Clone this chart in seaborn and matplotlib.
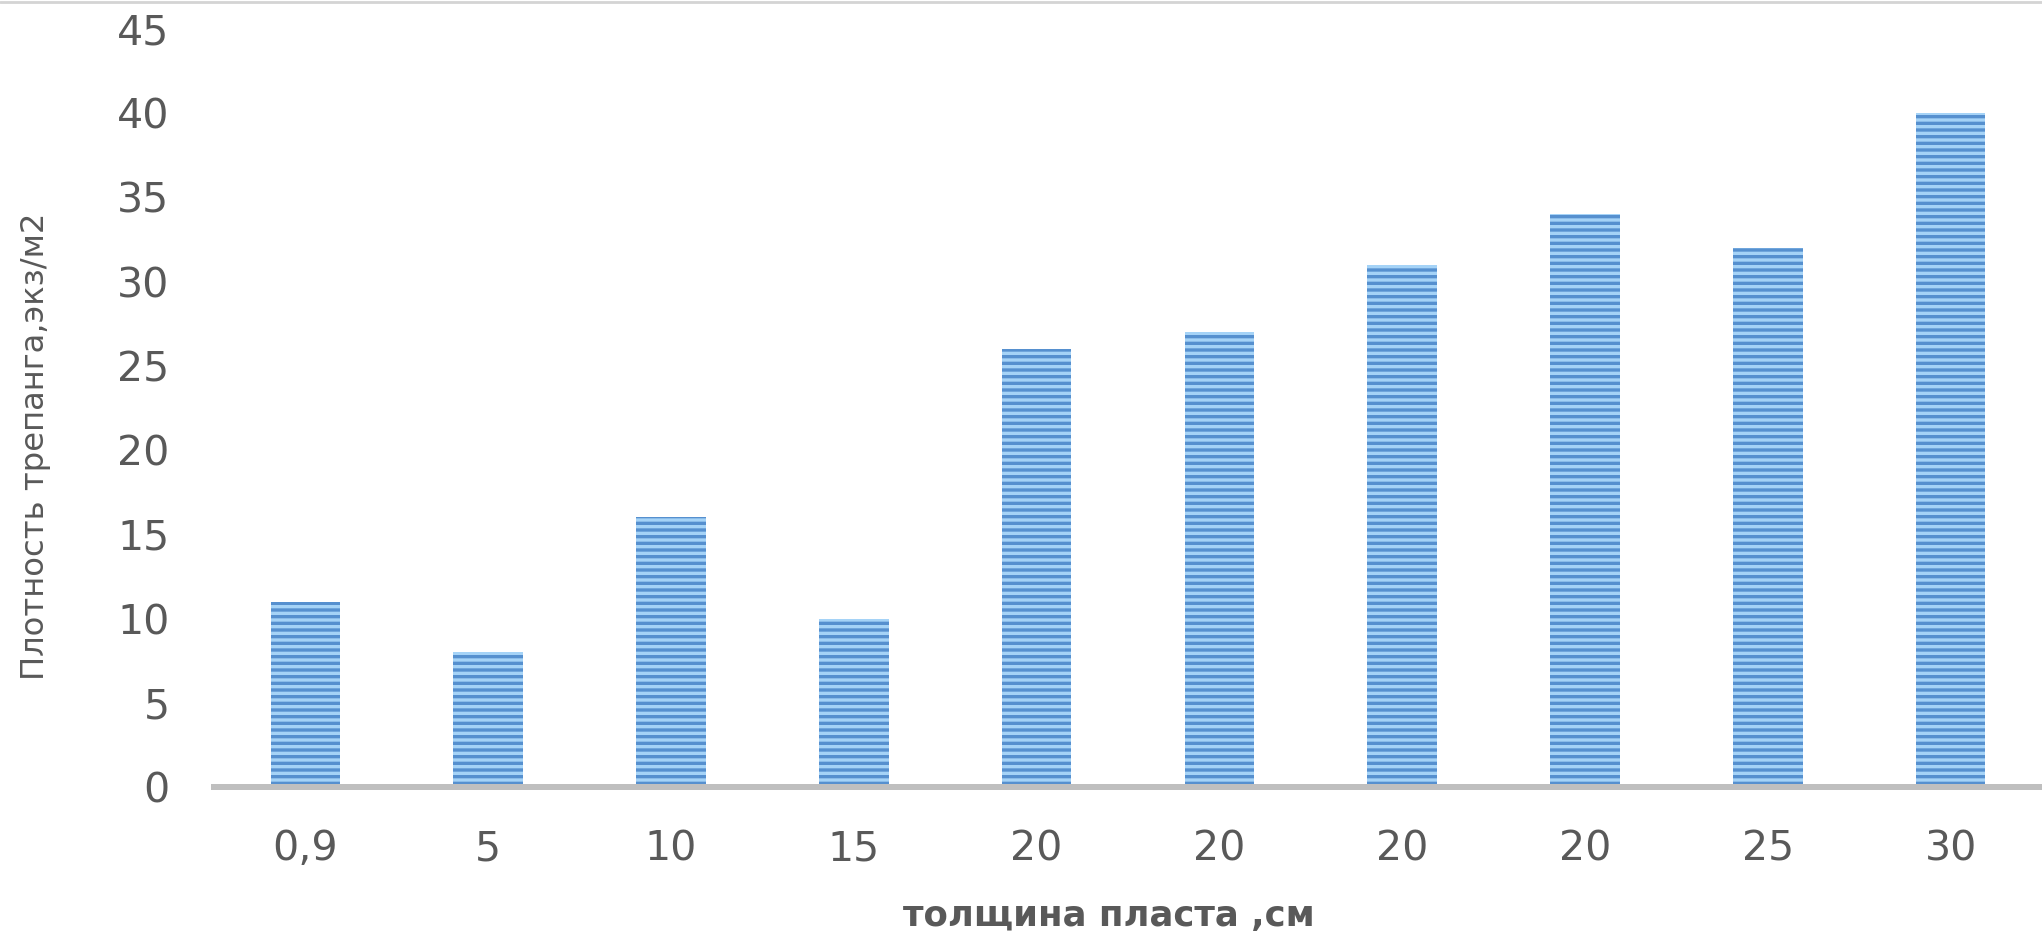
import matplotlib
matplotlib.use("Agg")
import matplotlib.pyplot as plt
import seaborn as sns
import pandas as pd
from matplotlib.lines import Line2D

# Data
thickness_labels = ["0,9", "5", "10", "15", "20", "20", "20", "20", "25", "30"]
density_values = [11, 8, 16, 10, 26, 27, 31, 34, 32, 40]
y_ticks = [0, 5, 10, 15, 20, 25, 30, 35, 40, 45]

DPI = 80
W, H = 2042, 933

sns.set_theme(style="white")
plt.rcParams['font.family'] = ['DejaVu Sans']
plt.rcParams['hatch.linewidth'] = 3.0
STRIPE = '#5690cf'
try:
    plt.rcParams['hatch.color'] = STRIPE
except Exception:
    pass

fig = plt.figure(figsize=(W / DPI, H / DPI), dpi=DPI)
ax = fig.add_axes([214 / W, 1 - 787 / H, 1 - 214 / W, (787 - 29) / H])

df = pd.DataFrame({"pos": list(range(len(density_values))), "value": density_values})
sns.barplot(data=df, x="pos", y="value", color="#a5d3f7", width=0.38,
            saturation=1, ax=ax, linewidth=0)

for p in ax.patches:
    p.set_hatch('--')
    p.set_edgecolor(STRIPE)
    p.set_linewidth(0)
    if hasattr(p, "set_hatchcolor"):
        p.set_hatchcolor(STRIPE)

ax.set_xlim(-0.5, len(density_values) - 0.5)
ax.set_ylim(0, 45)
ax.set_yticks(y_ticks)
ax.set_xticks(range(len(thickness_labels)))
ax.set_xticklabels(thickness_labels)

tick_color = '#595959'
ax.tick_params(axis='x', length=0, pad=38, labelsize=37, colors=tick_color)
ax.tick_params(axis='y', length=0, pad=40, labelsize=37, colors=tick_color)

for s in ['top', 'right', 'left']:
    ax.spines[s].set_visible(False)
ax.spines['bottom'].set_color('#bfbfbf')
ax.spines['bottom'].set_linewidth(5.4)
ax.spines['bottom'].set_zorder(5)

ax.set_ylabel("Плотность трепанга,экз/м2", fontsize=29, color=tick_color)
ax.yaxis.set_label_coords((36 - 214) / 1828, (787 - 446) / 758)
ax.yaxis.label.set_va('center')

ax.set_xlabel("толщина пласта ,см", fontsize=32, fontweight='bold', color=tick_color)
ax.xaxis.set_label_coords((1109 - 214) / 1828, (787 - 916) / 758)
ax.xaxis.label.set_va('center')

fig.add_artist(Line2D([0, 1], [1 - 1.5 / H, 1 - 1.5 / H], transform=fig.transFigure,
                      color='#d4d4d4', linewidth=2.5))

fig.savefig("out.png", dpi=DPI, facecolor='white')
